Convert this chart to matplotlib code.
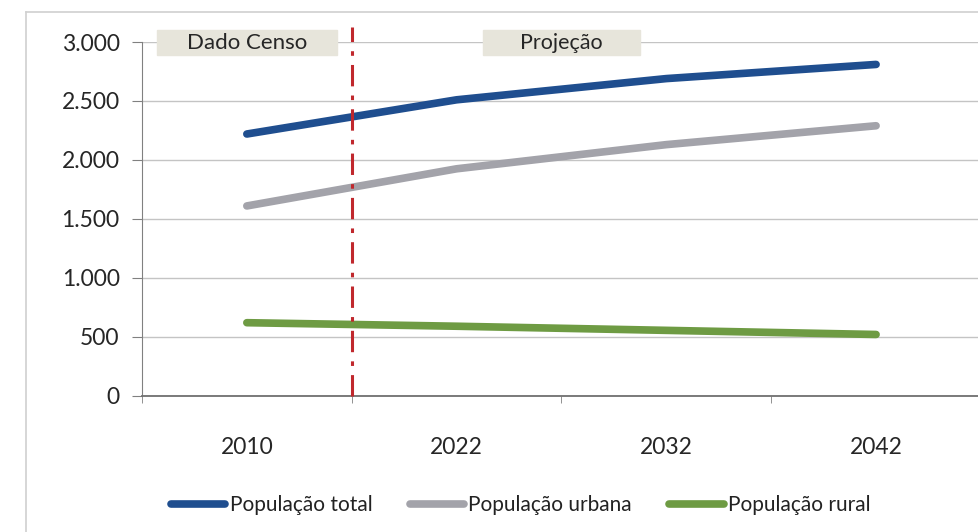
import matplotlib.pyplot as plt
from matplotlib.lines import Line2D
from matplotlib.patches import Rectangle
from matplotlib.ticker import FuncFormatter

anos = ["2010", "2022", "2032", "2042"]
pop_total = [2220, 2510, 2690, 2810]
pop_urbana = [1610, 1925, 2130, 2290]
pop_rural = [620, 590, 555, 520]

plt.rcParams["font.family"] = ["Lato", "DejaVu Sans"]

fig = plt.figure(figsize=(9.79, 5.32), dpi=100)
ax = fig.add_axes([0.145, 0.256, 0.857, 0.665])

x = range(len(anos))
ax.plot(x, pop_total, color="#1F4E8F", lw=5.5, solid_capstyle="round", label="População total", zorder=3)
ax.plot(x, pop_urbana, color="#A3A3AA", lw=5.5, solid_capstyle="round", label="População urbana", zorder=3)
ax.plot(x, pop_rural, color="#6E9B43", lw=5.5, solid_capstyle="round", label="População rural", zorder=3)

ax.set_xlim(-0.5, 3.5)
ax.set_ylim(0, 3000)
ax.set_yticks(range(0, 3001, 500))
ax.yaxis.set_major_formatter(FuncFormatter(lambda v, p: f"{int(v):,}".replace(",", ".")))
ax.set_xticks(x)
ax.set_xticklabels(anos)
ax.set_xticks([i + 0.5 for i in range(-1, 4)], minor=True)
ax.tick_params(axis="x", which="major", length=0, pad=30, labelsize=16.5, labelcolor="#262626")
ax.tick_params(axis="x", which="minor", length=5, direction="out", color="#808080")
ax.tick_params(axis="y", length=7, direction="out", color="#808080", labelsize=16.5, labelcolor="#262626", pad=9)

ax.grid(axis="y", color="#C4C4C4", lw=1)
ax.set_axisbelow(True)
for s in ["top", "right"]:
    ax.spines[s].set_visible(False)
ax.spines["left"].set_color("#808080")
ax.spines["bottom"].set_color("#707070")
ax.spines["bottom"].set_linewidth(1.3)

# linha divisória censo / projeção
ax.plot([0.5, 0.5], [0, 3130], color="#C0282D", lw=2.2, ls=(0, (7, 3, 1.5, 3)), clip_on=False, zorder=4)

# rótulos dos períodos
ax.add_patch(Rectangle((-0.43, 2890), 0.86, 210, color="#E7E5DB", clip_on=False, zorder=2))
ax.text(0, 2995, "Dado Censo", ha="center", va="center", fontsize=16, color="#262626", zorder=5)
ax.add_patch(Rectangle((1.125, 2890), 0.75, 210, color="#E7E5DB", clip_on=False, zorder=2))
ax.text(1.5, 2995, "Projeção", ha="center", va="center", fontsize=15.5, color="#262626", zorder=5)

# moldura externa do gráfico
fig.add_artist(Line2D([0.0266, 0.0266], [0, 0.977], color="#D0D0D0", lw=1.2))
fig.add_artist(Line2D([0.0266, 1], [0.977, 0.977], color="#D0D0D0", lw=1.2))

ax.legend(loc="center", bbox_to_anchor=(0.532, 0.05), bbox_transform=fig.transFigure,
          ncol=3, frameon=False, handlelength=2.6, handletextpad=0.2,
          columnspacing=1.8, labelcolor="#222222", fontsize=15)

fig.savefig("out.png", dpi=100)
